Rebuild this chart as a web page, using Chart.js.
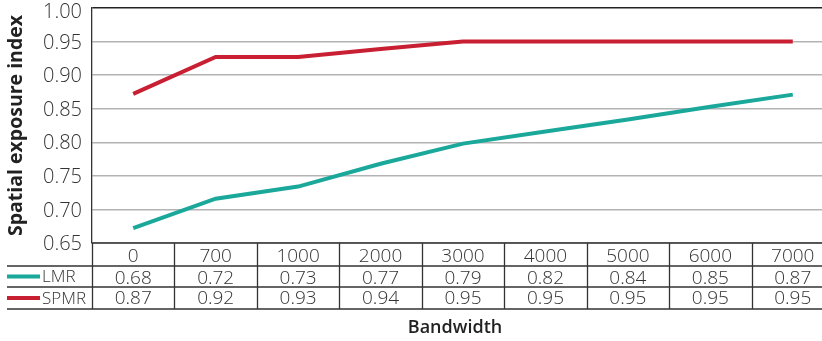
<!DOCTYPE html>
<html>
<head>
<meta charset="utf-8">
<script src="https://cdn.jsdelivr.net/npm/chart.js@4"></script>
<style>
  html, body { margin: 0; padding: 0; background: #fff; overflow: hidden; }
  #wrap { width: 834px; height: 341px; position: relative; }
</style>
</head>
<body>
<div id="wrap"><canvas id="chart"></canvas></div>
<script>
const bandwidths = ["0", "700", "1000", "2000", "3000", "4000", "5000", "6000", "7000"];
const lmrValues = [0.672, 0.716, 0.734, 0.768, 0.798, 0.816, 0.834, 0.853, 0.871];
const spmrValues = [0.872, 0.927, 0.927, 0.939, 0.95, 0.95, 0.95, 0.95, 0.95];
const lmrTable = ["0.68", "0.72", "0.73", "0.77", "0.79", "0.82", "0.84", "0.85", "0.87"];
const spmrTable = ["0.87", "0.92", "0.93", "0.94", "0.95", "0.95", "0.95", "0.95", "0.95"];
const yTicks = [0.65, 0.70, 0.75, 0.80, 0.85, 0.90, 0.95, 1.00];

const teal = "#1aa89b";
const red = "#c81f32";
const lineDark = "#333";
const textDark = "#333";
const lightFont = "'Open Sans', 'DejaVu Sans', sans-serif";

// nudge y tick labels down a bit, the top one more so it sits inside
const tickNudge = {
  id: "tickNudge",
  beforeDraw(chart) {
    const items = chart.scales.y.getLabelItems(chart.chartArea);
    if (items._nudged) return;
    items.forEach((it, i) => {
      const v = chart.scales.y.ticks[i].value;
      it.options.translation[1] += v === 1 ? 4 : 1.5;
    });
    items._nudged = true;
  },
};

// draws the data table + legend under the plot, using the x scale columns
const dataTable = {
  id: "dataTable",
  afterDraw(chart) {
    const ctx = chart.ctx;
    const xs = chart.scales.x;
    const area = chart.chartArea;
    const colW = xs.getPixelForValue(1) - xs.getPixelForValue(0);
    const rowY = [area.bottom, 266, 287, 309];
    const legendLeft = 7;

    ctx.save();
    ctx.strokeStyle = lineDark;
    ctx.lineWidth = 1.3;

    // horizontal rules
    ctx.beginPath();
    ctx.moveTo(area.left, rowY[0]);
    ctx.lineTo(chart.width, rowY[0]);
    for (let r = 1; r < rowY.length; r++) {
      ctx.moveTo(legendLeft, rowY[r]);
      ctx.lineTo(chart.width, rowY[r]);
    }
    // vertical rules at column edges
    for (let i = 0; i <= bandwidths.length; i++) {
      const x = Math.round(xs.getPixelForValue(0) - colW / 2 + i * colW) + 0.5;
      ctx.moveTo(x, rowY[0]);
      ctx.lineTo(x, rowY[3]);
    }
    ctx.stroke();

    // cell text
    ctx.fillStyle = textDark;
    ctx.font = "300 19px " + lightFont;
    ctx.textAlign = "center";
    ctx.textBaseline = "middle";
    bandwidths.forEach((b, i) => {
      const x = xs.getPixelForValue(i);
      ctx.fillText(b, x, (rowY[0] + rowY[1]) / 2 + 2);
      ctx.fillText(lmrTable[i], x, (rowY[1] + rowY[2]) / 2 + 2);
      ctx.fillText(spmrTable[i], x, (rowY[2] + rowY[3]) / 2 + 1);
    });

    // legend keys
    const keys = [
      { label: "LMR", color: teal, y: (rowY[1] + rowY[2]) / 2 },
      { label: "SPMR", color: red, y: (rowY[2] + rowY[3]) / 2 },
    ];
    ctx.textAlign = "left";
    ctx.font = "300 17px " + lightFont;
    keys.forEach((k) => {
      ctx.strokeStyle = k.color;
      ctx.lineWidth = 4;
      ctx.beginPath();
      ctx.moveTo(legendLeft, k.y);
      ctx.lineTo(40, k.y);
      ctx.stroke();
      ctx.fillText(k.label, 42, k.y + 1);
    });

    // x axis title
    ctx.font = "600 18px 'Open Sans', sans-serif";
    ctx.fillStyle = "#222";
    ctx.textAlign = "center";
    ctx.fillText("Bandwidth", 455, 328);
    ctx.restore();
  },
};

new Chart(document.getElementById("chart"), {
  type: "line",
  data: {
    labels: bandwidths,
    datasets: [
      {
        label: "LMR",
        data: lmrValues,
        borderColor: teal,
        backgroundColor: teal,
        borderWidth: 4,
        pointRadius: 0,
        tension: 0,
      },
      {
        label: "SPMR",
        data: spmrValues,
        borderColor: red,
        backgroundColor: red,
        borderWidth: 4,
        pointRadius: 0,
        tension: 0,
      },
    ],
  },
  options: {
    responsive: true,
    maintainAspectRatio: false,
    animation: false,
    layout: { padding: { top: 8, left: 0, right: 0, bottom: 0 } },
    plugins: {
      legend: { display: false },
      tooltip: { enabled: false },
    },
    scales: {
      x: {
        offset: true,
        grid: { display: false },
        border: { display: false },
        ticks: { display: false },
        afterFit(scale) {
          scale.height = 98;
        },
      },
      y: {
        min: 0.65,
        max: 1.0,
        afterBuildTicks(scale) {
          scale.ticks = yTicks.map((v) => ({ value: v }));
        },
        afterFit(scale) {
          scale.width = 92;
          scale.paddingTop = 0;
          scale.paddingBottom = 0;
        },
        grid: {
          drawTicks: false,
          lineWidth: 1.5,
          color: (c) => (c.tick && c.tick.value === 1 ? "#222" : "#b3b3b3"),
        },
        border: { display: true, color: lineDark, width: 1.3 },
        ticks: {
          padding: 10,
          color: textDark,
          font: { family: lightFont, size: 20, weight: "300" },
          callback: (v) => Number(v).toFixed(2),
        },
        title: {
          display: true,
          text: "Spatial exposure index",
          color: "#222",
          padding: { top: 5, bottom: 0 },
          font: { family: "'Open Sans', sans-serif", size: 19.5, weight: "bold" },
        },
      },
    },
  },
  plugins: [tickNudge, dataTable],
});
</script>
</body>
</html>
